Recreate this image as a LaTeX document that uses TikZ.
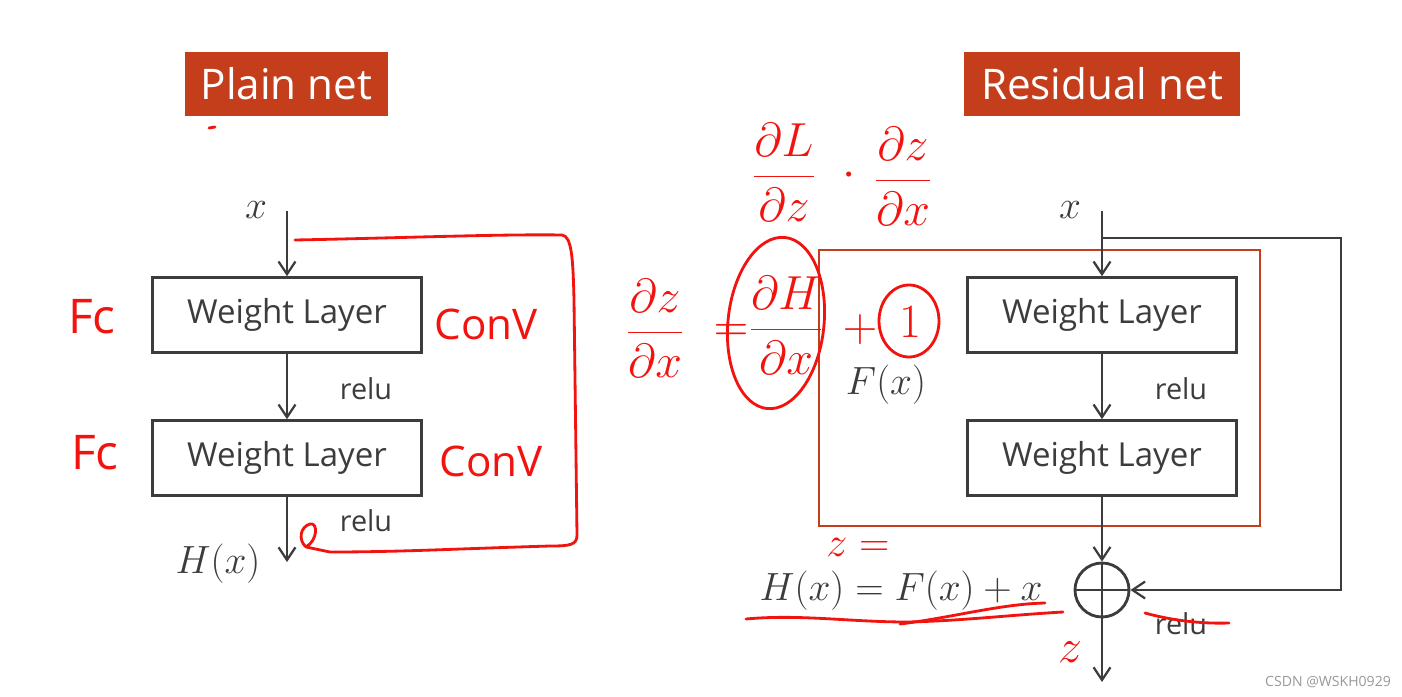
\documentclass[tikz,border=0pt]{standalone}
\usepackage{fix-cm}
\usepackage{amsmath}
\usepackage[no-math]{fontspec}
\setmainfont{Open Sans}
\usetikzlibrary{arrows.meta}

\definecolor{titlered}{HTML}{C43E1C}
\definecolor{ink}{HTML}{3C3C3C}
\definecolor{pen}{HTML}{F2130F}

\tikzset{
  title/.style={fill=titlered, text=white, minimum height=1.6cm, inner sep=0pt,
    font=\fontsize{30}{36}\selectfont},
  layer/.style={draw=ink, line width=2pt, minimum width=6.72cm, minimum height=1.87cm,
    inner sep=0pt, text=ink, font=\fontsize{23.5}{28}\selectfont},
  lbl/.style={text=ink, inner sep=0pt, font=\fontsize{20.5}{24}\selectfont},
  mlbl/.style={text=ink, inner sep=0pt, font=\fontsize{28}{32}\selectfont},
  flow/.style={draw=ink, line width=1.6pt, -{Straight Barb[length=9pt,width=12pt]}},
  note/.style={text=pen, inner sep=0pt, font=\fontsize{34}{40}\selectfont},
  penline/.style={draw=pen, line width=2pt, line cap=round, line join=round}
}

\begin{document}
\begin{tikzpicture}[x=0.025cm, y=-0.025cm]
  \useasboundingbox[fill=white] (0,0) rectangle (1402,697);

  % plain net
  \node[title, minimum width=5.07cm] (plaintitle) at (286.5,84) {Plain net};
  \node[mlbl] (px) at (256,210) {$x$};
  \coordinate (pin) at (287,211);
  \node[layer] (pw1) at (287,315) {Weight Layer};
  \node[layer] (pw2) at (287,458) {Weight Layer};
  \coordinate (pout) at (287,562);
  \node[lbl] (prelu1) at (366,389) {relu};
  \node[lbl] (prelu2) at (366,521) {relu};
  \node[mlbl] (phx) at (218,564) {$H(x)$};
  \draw[flow] (pin) -- (pw1.north);
  \draw[flow] (pw1.south) -- (pw2.north);
  \draw[flow] (pw2.south) -- (pout);

  % residual net
  \node[title, minimum width=6.9cm] (restitle) at (1102,84) {Residual net};
  \node[mlbl] (rx) at (1070,210) {$x$};
  \coordinate (rin) at (1102,211);
  \coordinate (rsplit) at (1102,238);
  \draw[titlered, line width=2pt] (819,250) rectangle (1260,526);
  \node[layer] (rw1) at (1102,315) {Weight Layer};
  \node[layer] (rw2) at (1102,458) {Weight Layer};
  \node[lbl] (rrelu1) at (1181,389) {relu};
  \node[mlbl] (rfx) at (886,385) {$F(x)$};
  \node[draw=ink, line width=2pt, circle, minimum size=1.35cm, inner sep=0pt] (sum) at (1102,590) {};
  \draw[ink, line width=2pt] (sum.north) -- (sum.south) (sum.west) -- (sum.east);
  \coordinate (rout) at (1102,682);
  \node[lbl] (rrelu2) at (1181,624) {relu};
  \node[mlbl] (rhx) at (901,591) {$H(x) = F(x) + x$};
  \draw[flow] (rin) -- (rw1.north);
  \draw[flow] (rw1.south) -- (rw2.north);
  \draw[flow] (rw2.south) -- (sum.north);
  \draw[flow] (sum.south) -- (rout);
  \draw[flow] (rsplit) -- ++(239,0) |- (sum.east);

  % red pen notes
  \draw[penline] (209,128) -- (215,127);
  \node[note] (fc1) at (92,317) {Fc};
  \node[note] (fc2) at (95,453) {Fc};
  \node[note, font=\fontsize{30}{36}\selectfont] (conv1) at (486,324) {ConV};
  \node[note, font=\fontsize{30}{36}\selectfont] (conv2) at (491,461) {ConV};
  \draw[penline] (295,240) .. controls (400,238) and (500,234) .. (562,235)
    .. controls (572,236) and (573,260) .. (574,300) -- (577,535)
    .. controls (577,545) and (570,546) .. (550,546)
    .. controls (450,549) and (400,552) .. (330,552) -- (306,547)
    .. controls (318,540) and (318,522) .. (310,524)
    .. controls (300,527) and (298,540) .. (306,547);

  \node[note] (dldz) at (784,172) {$\dfrac{\partial L}{\partial z}$};
  \node[note] (dot) at (849,176) {$\cdot$};
  \node[note] (dzdx1) at (903,176) {$\dfrac{\partial z}{\partial x}$};
  \node[note] (dzdx) at (655,328) {$\dfrac{\partial z}{\partial x}$};
  \node[note] (eq) at (731,333) {$=$};
  \node[note] (dhdx) at (786,325) {$\dfrac{\partial H}{\partial x}$};
  \node[note] (plus) at (860,330) {$+$};
  \node[note] (one) at (910,322) {$1$};
  \draw[penline, rotate around={-6:(776,323)}] (776,323) ellipse [x radius=48, y radius=86];
  \draw[penline] (909,321) ellipse [x radius=30, y radius=36];

  \node[note, font=\fontsize{30}{36}\selectfont] (zeq) at (858,547) {$z =$};
  \node[note] (zout) at (1070,652) {$z$};
  \draw[penline] (746,619) .. controls (800,614) and (850,622) .. (907,622)
    .. controls (960,621) and (1010,615) .. (1063,612);
  \draw[penline] (900,624) .. controls (950,618) and (1000,604) .. (1045,603);
  \draw[penline] (1145,613) .. controls (1170,620) and (1200,624) .. (1229,623);

  \node[text=gray!80, inner sep=0pt, font=\fontsize{10}{12}\selectfont] (mark) at (1328,682) {CSDN @WSKH0929};
\end{tikzpicture}
\end{document}
